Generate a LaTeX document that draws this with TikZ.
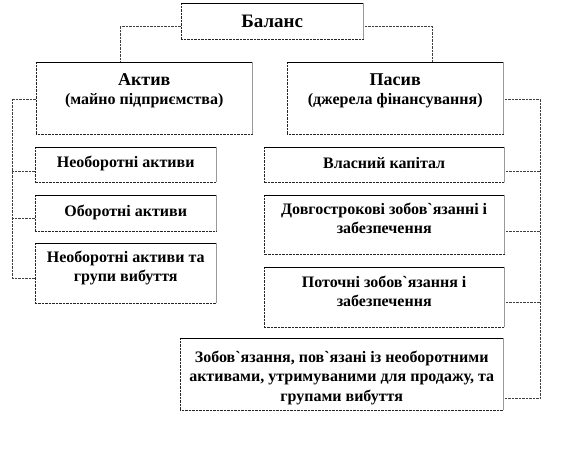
\documentclass[tikz,border=0pt]{standalone}
\usepackage{fontspec}
\setmainfont{Liberation Serif}[Ligatures=TeXOff]
\usepackage{xcolor}
\usepackage{tikz}
\usetikzlibrary{
    arrows.meta,
    positioning,
    calc
}

% top-aligned box text: width, height, first baseline, text
\newcommand{\boxtext}[4]{\parbox[c][#2][t]{#1}{\centering\rule{0pt}{#3}#4}}

\begin{document}
\begin{tikzpicture}[
  x=1pt, y=-1pt,
  bx/.style={rectangle, fill=white, inner sep=0pt, anchor=north west,
    font=\bfseries\fontsize{16}{19.5}\selectfont},
  edgedot/.style={draw=black!85, line width=0.7pt,
    dash pattern=on 0.7pt off 0.7pt},
  edgetop/.style={draw=black, line width=0.9pt},
  edgeright/.style={draw=gray!80, line width=0.9pt},
  link/.style={draw=black!75, line width=0.7pt,
    dash pattern=on 0.7pt off 0.7pt},
  ttl/.style={font=\bfseries\fontsize{18}{19.5}\selectfont}
]
\useasboundingbox (0,0) rectangle (564,459);

%% ── Top: balance ─────────────────────────────────────────────────────────────
\node[bx] (bal) at (181,3)
    {\boxtext{182pt}{36pt}{24pt}{\fontsize{19}{19.5}\selectfont Баланс}};

%% ── Row 2: assets / liabilities ──────────────────────────────────────────────
\node[bx] (akt) at (36,62)
    {\boxtext{216pt}{72pt}{23pt}{{\fontsize{18}{19.5}\selectfont Актив}\\(майно підприємства)}};
\node[bx] (pas) at (287,62)
    {\boxtext{216pt}{72pt}{23pt}{{\fontsize{18}{19.5}\selectfont Пасив}\\(джерела фінансування)}};

\draw[link] ([yshift=-5pt]bal.west) -| ([xshift=-24pt]akt.north);
\draw[link] ([yshift=-5pt]bal.east) -| ([xshift=37pt]pas.north);

%% ── Left column: assets ──────────────────────────────────────────────────────
\node[bx] (l1) at (35,147)
    {\boxtext{181pt}{35pt}{20pt}{Необоротні активи}};
\node[bx] (l2) at (35,195)
    {\boxtext{181pt}{36pt}{21pt}{Оборотні активи}};
\node[bx] (l3) at (35,243)
    {\boxtext{181pt}{60pt}{19pt}{Необоротні активи та\\групи вибуття}};

\draw[link] ([yshift=-1pt]akt.west) -- ++(-24,0) |- ([yshift=-5pt]l3.west);
\draw[link] ([yshift=-6.5pt]l1.west) -- ++(-23,0);
\draw[link] ([yshift=-5pt]l2.west) -- ++(-23,0);

%% ── Right column: liabilities ────────────────────────────────────────────────
\node[bx] (r1) at (264,147)
    {\boxtext{240pt}{35pt}{21pt}{Власний капітал}};
\node[bx] (r2) at (264,195)
    {\boxtext{240pt}{59pt}{19pt}{Довгострокові зобов`язанні і\\забезпечення}};
\node[bx] (r3) at (264,267)
    {\boxtext{240pt}{60pt}{20pt}{Поточні зобов`язання і\\забезпечення}};
\node[bx] (r4) at (180,338)
    {\boxtext{323pt}{72pt}{24pt}{Зобов`язання, пов`язані із необоротними\\активами, утримуваними для продажу, та\\групами вибуття}};

\draw[link] ([yshift=-1pt]pas.east) -- ++(37,0) |- ([yshift=-24pt]r4.east);
\draw[link] ([yshift=-6.5pt]r1.east) -- ++(36,0);
\draw[link] ([yshift=-6.5pt]r2.east) -- ++(36,0);
\draw[link] ([yshift=-5pt]r3.east) -- ++(36,0);

%% ── Box edges ────────────────────────────────────────────────────────────────
\foreach \n in {bal,akt,pas,l1,l2,l3,r1,r2,r3,r4}{
  \draw[edgedot] (\n.north west) -- (\n.south west) -- (\n.south east);
  \draw[edgeright] (\n.north east) -- (\n.south east);
  \draw[edgetop] (\n.north west) -- (\n.north east);
}

\end{tikzpicture}
\end{document}
